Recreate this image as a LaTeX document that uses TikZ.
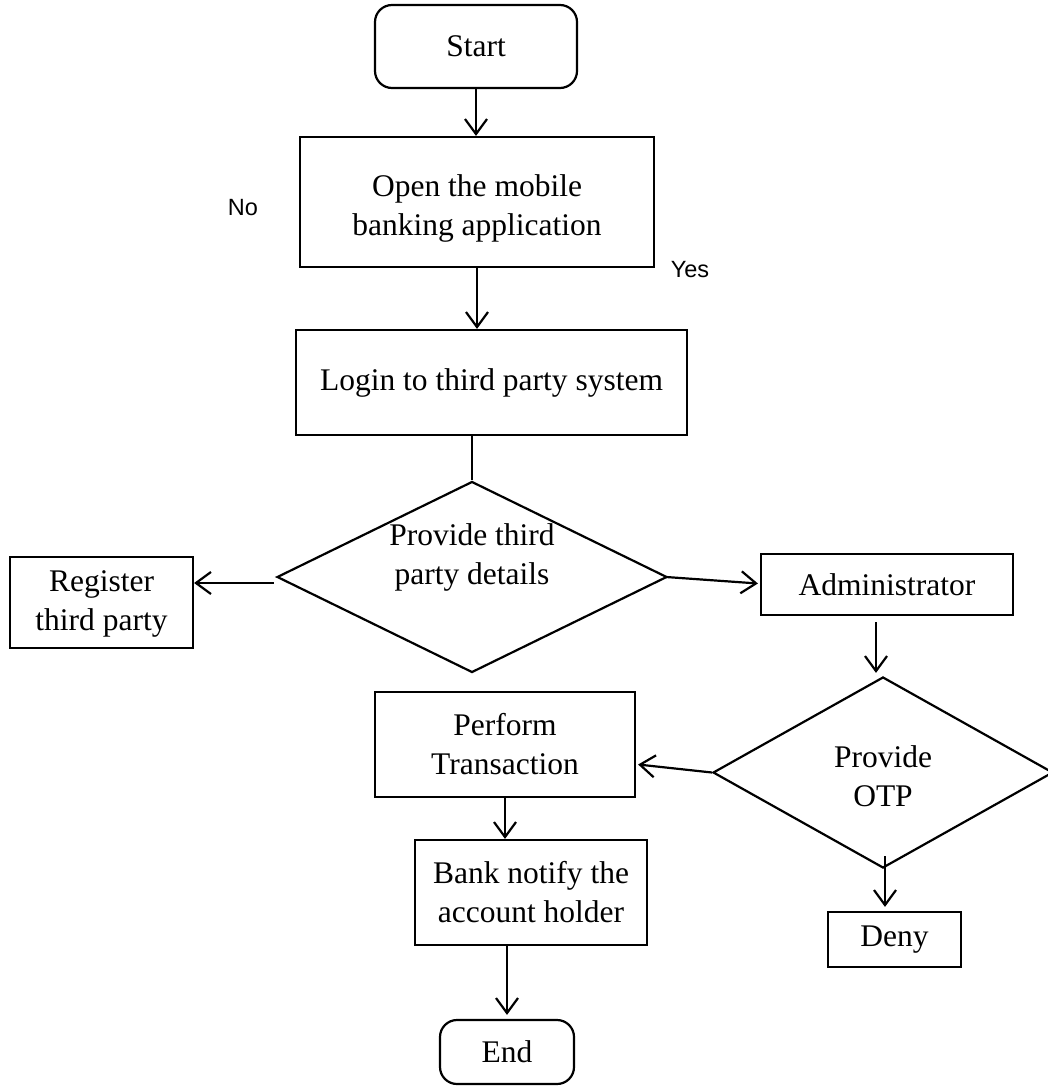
\documentclass[tikz,border=0pt]{standalone}
\usepackage{fontspec}
\setmainfont{Liberation Serif}
\newfontfamily\labelfont{Liberation Sans}
\usetikzlibrary{arrows.meta,shapes.geometric,calc}
\begin{document}
\begin{tikzpicture}[x=1pt,y=-1pt,
  every node/.style={font=\fontsize{31.5}{39}\selectfont, inner sep=0pt, align=center},
  stepbox/.style={draw, line width=2.2pt, rectangle},
  termbox/.style={draw, line width=2.2pt, rectangle, rounded corners=17pt},
  decision/.style={draw, line width=2.2pt, diamond},
  lbl/.style={font=\labelfont\fontsize{23.5}{28}\selectfont},
  arr/.style={line width=2.2pt, -{Straight Barb[length=15pt,width=22pt,line width=2.2pt]}},
  plain/.style={line width=2.2pt}]
\useasboundingbox (0,0) rectangle (1047,1086);
\node[termbox, minimum width=202pt, minimum height=83pt] (start) at (476,46.5) {Start};
\node[stepbox, minimum width=354pt, minimum height=130pt] (open) at (477,202) {};
\node (opent) at (477,208) {Open the mobile\\banking application};
\node[stepbox, minimum width=391pt, minimum height=105pt] (login) at (491.5,382.5) {Login to third party system};
\node[decision, minimum width=390pt, minimum height=191pt] (d1) at (472,577) {};
\node (d1t) at (472,557) {Provide third\\party details};
\node[stepbox, minimum width=183pt, minimum height=91pt] (reg) at (101.5,602.5) {};
\node (regt) at (101.5,604) {Register\\third party};
\node[stepbox, minimum width=252pt, minimum height=61pt] (admin) at (887,584.5) {Administrator};
\node[decision, minimum width=340pt, minimum height=191pt] (d2) at (883,772.5) {};
\node (d2t) at (883,776) {Provide\\OTP};
\node[stepbox, minimum width=260pt, minimum height=105pt] (perf) at (505,744.5) {Perform\\Transaction};
\node[stepbox, minimum width=232pt, minimum height=105pt] (bank) at (531,892.5) {Bank notify the\\account holder};
\node[stepbox, minimum width=133pt, minimum height=55pt] (deny) at (894.5,939.5) {Deny};
\node[termbox, minimum width=134pt, minimum height=64pt] (end) at (507,1052) {End};
\node[lbl] (no) at (243,208) {No};
\node[lbl] (yes) at (690,270) {Yes};
% connectors
\draw[arr] (start.south) -- (start.south |- open.north);
\draw[arr] (open.south) -- (open.south |- login.north);
\draw[plain] (d1.north |- login.south) -- (d1.north);
\draw[arr] ($(d1.west)+(-2,6)$) -- ($(d1.west -| reg.east)+(0,6)$);
\draw[arr] ($(d1.east)+(-2,0)$) -- ($(admin.west)+(-2,-1)$);
\draw[arr] ($(admin.south)+(-11,6)$) -- ($(d2.north)+(-7,-3)$);
\draw[arr] (d2.west) -- ($(perf.east)+(2,20)$);
\draw[arr] (perf.south) -- (perf.south |- bank.north);
\draw[arr] (end.north |- bank.south) -- ($(end.north)+(0,-4)$);
\draw[arr] ($(d2.south)+(2,-13)$) -- ($(d2.south |- deny.north)+(2,-4)$);
\end{tikzpicture}
\end{document}
